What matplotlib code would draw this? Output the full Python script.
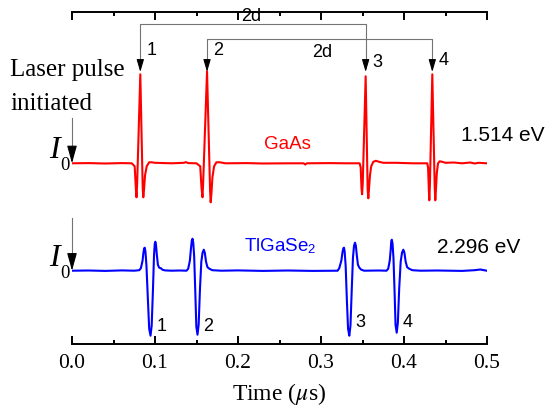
import matplotlib
matplotlib.use("Agg")
import matplotlib.pyplot as plt

plt.rcParams["mathtext.fontset"] = "stix"

# GaAs photoresponse (a.u.)
gaas_t = [0.000, 0.020, 0.040, 0.060, 0.072, 0.0755, 0.0770, 0.0777, 0.0785, 0.0823,
          0.0852, 0.0859, 0.0868, 0.0880, 0.0900, 0.0930, 0.0960, 0.1000, 0.120, 0.135,
          0.137, 0.140, 0.150, 0.1545, 0.1560, 0.1572, 0.1580, 0.1627, 0.1664, 0.1671,
          0.1680, 0.1692, 0.1712, 0.1740, 0.178, 0.185, 0.210, 0.230, 0.260, 0.279,
          0.281, 0.283, 0.310, 0.330, 0.3465, 0.3478, 0.3488, 0.3495, 0.3503, 0.3538,
          0.3562, 0.3570, 0.3578, 0.3590, 0.3605, 0.3630, 0.3660, 0.3700, 0.3750, 0.390,
          0.410, 0.428, 0.4290, 0.4300, 0.4305, 0.4312, 0.4341, 0.4370, 0.4377, 0.4385,
          0.4395, 0.4410, 0.4430, 0.4460, 0.4500, 0.460, 0.470, 0.480, 0.485, 0.490, 0.4996]
gaas_v = [0.00, 0.02, -0.02, 0.02, 0.00, -0.3, -2.6, -3.4, -2.0, 8.9,
          -2.5, -3.4, -2.6, -1.2, -0.3, 0.1, 0.1, 0.05, 0.0, 0.05,
          0.12, 0.02, 0.0, -0.3, -2.4, -3.4, -2.0, 9.2, -2.8, -3.9,
          -3.0, -1.4, -0.3, 0.1, 0.1, 0.0, 0.02, -0.02, 0.0, 0.0,
          -0.12, 0.0, 0.02, 0.0, 0.0, -0.4, -2.5, -3.1, -2.0, 8.7,
          -2.6, -3.5, -2.6, -1.2, -0.3, 0.15, 0.25, 0.15, 0.05, 0.05,
          0.0, 0.0, -0.4, -2.8, -3.7, -2.2, 8.9, -2.4, -3.7, -2.6,
          -1.0, 0.0, 0.2, 0.15, 0.05, 0.08, 0.0, 0.08, -0.02, 0.05, 0.0]

# TlGaSe2 photoresponse (a.u.)
tlgase_t = [0.000, 0.020, 0.040, 0.060, 0.075, 0.081, 0.0830, 0.0850, 0.0862, 0.0870,
            0.0877, 0.0885, 0.0897, 0.0915, 0.0930, 0.0946, 0.0960, 0.0975, 0.0988, 0.0997,
            0.1004, 0.1012, 0.1022, 0.1035, 0.1050, 0.1070, 0.1090, 0.112, 0.120, 0.130,
            0.138, 0.1400, 0.1420, 0.1433, 0.1443, 0.1452, 0.1461, 0.1472, 0.1485, 0.1498,
            0.1512, 0.1526, 0.1542, 0.1558, 0.1573, 0.1588, 0.1600, 0.1615, 0.1632, 0.1655,
            0.169, 0.180, 0.200, 0.230, 0.260, 0.290, 0.320, 0.3220, 0.3245, 0.3260,
            0.3270, 0.3277, 0.3285, 0.3297, 0.3312, 0.3326, 0.3341, 0.3355, 0.3370, 0.3385,
            0.3398, 0.3410, 0.3420, 0.3432, 0.3445, 0.3462, 0.3485, 0.352, 0.370, 0.379,
            0.3810, 0.3828, 0.3840, 0.3846, 0.3853, 0.3862, 0.3873, 0.3886, 0.3898, 0.3912,
            0.3926, 0.3942, 0.3960, 0.3976, 0.3992, 0.4005, 0.4020, 0.4038, 0.4062, 0.410,
            0.420, 0.440, 0.470, 0.485, 0.492, 0.4996]
tlgase_v = [0.0, 0.02, -0.02, 0.03, 0.0, 0.05, 0.25, 1.0, 1.9, 2.25,
            2.3, 1.9, 0.5, -3.0, -5.8, -6.5, -5.5, -2.0, 1.5, 2.7,
            2.9, 2.6, 1.6, 0.6, 0.3, 0.25, 0.1, 0.03, 0.0, 0.02,
            0.0, 0.2, 1.0, 2.2, 3.0, 3.2, 2.8, 1.4, -2.0, -5.6,
            -6.4, -5.4, -1.8, 0.9, 1.8, 2.1, 1.8, 0.9, 0.35, 0.2,
            0.05, 0.0, 0.03, -0.02, 0.02, -0.02, 0.0, 0.25, 1.0, 1.9,
            2.25, 2.3, 1.9, 0.5, -3.0, -5.8, -6.5, -5.5, -2.0, 1.3,
            2.5, 2.8, 2.5, 1.5, 0.6, 0.3, 0.1, 0.0, 0.02, 0.0,
            0.2, 1.0, 2.1, 2.9, 3.1, 2.7, 1.3, -2.0, -5.4, -6.2,
            -5.2, -1.8, 0.9, 1.8, 2.1, 1.8, 0.9, 0.35, 0.2, 0.05,
            0.0, 0.02, -0.02, 0.05, 0.12, 0.0]

# times of the four GaAs reflections marked with arrows
gaas_peaks = [0.0823, 0.1627, 0.3538, 0.4341]
# times of the four TlGaSe2 minima
tlgase_dips = [0.0946, 0.1512, 0.3341, 0.3912]
pulse_labels = ["1", "2", "3", "4"]

GAAS_OFF = 18.07
TLGASE_OFF = 7.33

SERIF = "Liberation Serif"
SANS = "Liberation Sans"

fig = plt.figure(figsize=(5.51, 4.19), dpi=100)
ax = fig.add_axes([72 / 551, 75 / 419, 415 / 551, 332 / 419])

ax.plot(gaas_t, [v + GAAS_OFF for v in gaas_v], color="#ff0000", lw=1.5)
ax.plot(tlgase_t, [v + TLGASE_OFF for v in tlgase_v], color="#0000ff", lw=1.5)

ax.set_xlim(0, 0.5)
ax.set_ylim(0, 33.2)
for side in ("left", "right"):
    ax.spines[side].set_visible(False)
for side in ("top", "bottom"):
    ax.spines[side].set_linewidth(1.4)

ax.set_xticks([0.0, 0.1, 0.2, 0.3, 0.4, 0.5])
ax.set_xticks([0.05, 0.15, 0.25, 0.35, 0.45], minor=True)
ax.set_xticklabels(["0.0", "0.1", "0.2", "0.3", "0.4", "0.5"], family=SERIF, fontsize=15.5)
ax.tick_params(axis="x", which="both", direction="in", top=True, bottom=True, width=1.4)
ax.tick_params(axis="x", which="major", length=5.5, pad=7)
ax.tick_params(axis="x", which="minor", length=3)
ax.tick_params(axis="y", left=False, labelleft=False)
ax.set_xlabel(r"Time ($\mu$s)", family=SERIF, fontsize=17, labelpad=6)

# 2d brackets between reflections 1-3 and 2-4
tip = 27.2
for (a, b), ybr in zip([(0, 2), (1, 3)], [32.0, 30.47]):
    ta, tb = gaas_peaks[a], gaas_peaks[b]
    ax.plot([ta, ta, tb, tb], [tip + 0.9, ybr, ybr, tip + 0.9], color="0.45", lw=0.8,
            clip_on=False)
for t in gaas_peaks:
    ax.annotate("", xy=(t, tip), xytext=(t, tip + 1.0),
                arrowprops=dict(arrowstyle="-|>,head_length=0.75,head_width=0.22",
                                color="black", lw=0.8, shrinkA=0, shrinkB=0,
                                mutation_scale=10))
ax.text(0.2157, 32.8, "2d", family=SANS, fontsize=13, ha="center", va="center")
ax.text(0.3018, 29.2, "2d", family=SANS, fontsize=13, ha="center", va="center")

for t, lab, y in zip(gaas_peaks, pulse_labels, [29.4, 29.4, 28.2, 28.4]):
    ax.text(t + 0.0135, y, lab, family=SANS, fontsize=13, ha="center", va="center")
for t, lab, y in zip(tlgase_dips, pulse_labels, [1.8, 1.8, 2.2, 2.2]):
    ax.text(t + 0.013, y, lab, family=SANS, fontsize=13, ha="center", va="center")

# laser trigger arrows at t = 0, with the I0 level marked beside them
for ytop, ybase in [(22.6, GAAS_OFF), (12.6, TLGASE_OFF)]:
    ax.plot([0, 0], [ytop, ybase + 1.2], color="0.45", lw=0.8, clip_on=False)
    ax.annotate("", xy=(0, ybase), xytext=(0, ybase + 1.5),
                arrowprops=dict(arrowstyle="-|>,head_length=1.08,head_width=0.3",
                                color="black", lw=0.8, shrinkA=0, shrinkB=0,
                                mutation_scale=10),
                annotation_clip=False)
    ax.text(-0.0145, ybase + 0.5, "I", family=SERIF, style="italic", fontsize=23,
            ha="right", va="baseline", clip_on=False)
    ax.text(-0.0139, ybase - 0.7, "0", family=SERIF, fontsize=13.5, ha="left",
            va="baseline", clip_on=False)

ax.text(-0.0747, 26.8, "Laser pulse", family=SERIF, fontsize=18, ha="left",
        va="baseline", clip_on=False)
ax.text(-0.0747, 23.4, "initiated", family=SERIF, fontsize=18, ha="left",
        va="baseline", clip_on=False)

ax.text(0.259, 20.0, "GaAs", family=SANS, fontsize=13.5, color="#ff0000",
        ha="center", va="center")
ax.text(0.2072, 9.8, r"TlGaSe$_\mathregular{2}$", family=SANS, fontsize=13.5,
        color="#0000ff", ha="left", va="center")
ax.text(0.4687, 20.9, "1.514 eV", family=SANS, fontsize=15, ha="left", va="center",
        clip_on=False)
ax.text(0.4398, 9.7, "2.296 eV", family=SANS, fontsize=15, ha="left", va="center",
        clip_on=False)

fig.savefig("out.png", dpi=100)
